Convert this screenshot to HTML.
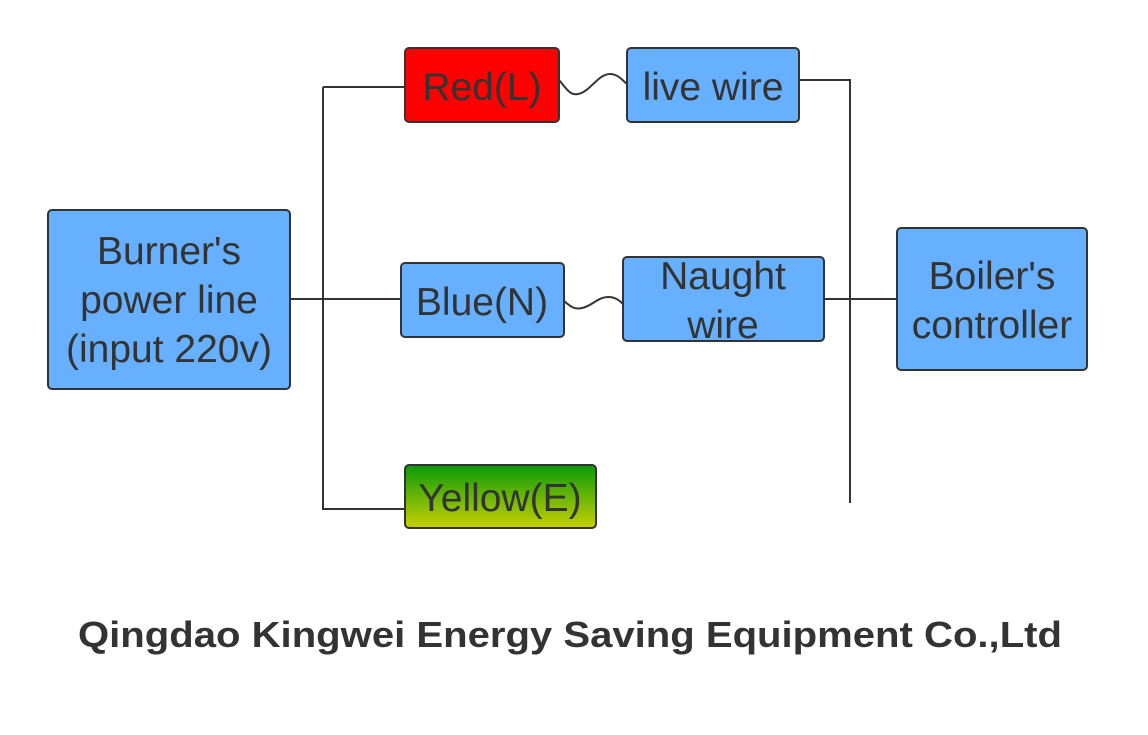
<!DOCTYPE html>
<html><head><meta charset="utf-8"><style>
html,body{margin:0;padding:0;background:#fff;}
svg{display:block;}
text{font-family:"Liberation Sans",Arial,sans-serif;fill:#333;}
</style></head><body>
<svg width="1148" height="735" viewBox="0 0 1148 735" xmlns="http://www.w3.org/2000/svg">
<defs>
<linearGradient id="g" x1="0" y1="0" x2="0" y2="1">
<stop offset="0" stop-color="#0a9a0a"/><stop offset="1" stop-color="#c8d000"/>
</linearGradient>
</defs>
<g stroke="#333" stroke-width="2" fill="none">
<path d="M323 87 V510 M323 87 H405 M290 299 H401 M323 509 H405"/>
<path d="M799 80 H850 V503 M824 299 H897"/>
<path d="M559 80 C566 88 570 96 578 94 C590 92 598 74 610 74 C618 74 622 80 627 84"/>
<path d="M564 301 C570 306 574 310 582 308 C592 306 598 297 608 297 C614 297 618 299 623 304"/>
</g>
<g stroke="#333" stroke-width="2">
<rect x="48" y="210" width="242" height="179" rx="4" fill="#66b0ff"/>
<rect x="405" y="48" width="154" height="74" rx="4" fill="#ff0000"/>
<rect x="627" y="48" width="172" height="74" rx="4" fill="#66b0ff"/>
<rect x="401" y="263" width="163" height="74" rx="4" fill="#66b0ff"/>
<rect x="623" y="257" width="201" height="84" rx="4" fill="#66b0ff"/>
<rect x="897" y="228" width="190" height="142" rx="4" fill="#66b0ff"/>
<rect x="405" y="465" width="191" height="63" rx="4" fill="url(#g)"/>
</g>
<g font-size="39" text-anchor="middle">
<text x="169" y="264">Burner's</text>
<text x="169" y="313">power line</text>
<text x="169" y="362">(input 220v)</text>
<text x="482" y="100">Red(L)</text>
<text x="713" y="100">live wire</text>
<text x="482" y="315">Blue(N)</text>
<text x="723" y="289">Naught</text>
<text x="723" y="338">wire</text>
<text x="992" y="289">Boiler's</text>
<text x="992" y="338">controller</text>
<text x="500" y="511">Yellow(E)</text>
</g>
<text x="570" y="647" font-size="36" font-weight="bold" text-anchor="middle" textLength="984" lengthAdjust="spacingAndGlyphs">Qingdao Kingwei Energy Saving Equipment Co.,Ltd</text>
</svg>
</body></html>
